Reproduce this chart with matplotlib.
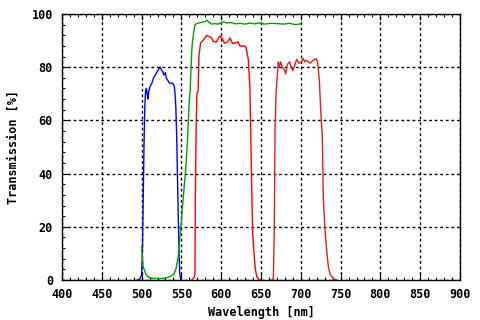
import numpy as np
import matplotlib.pyplot as plt
from matplotlib.ticker import MultipleLocator

# blue filter
blue_nm = [495, 498, 500, 501, 502, 503, 504, 505, 506, 507, 508, 509, 511, 513, 515, 517,
           519, 521, 523, 525, 527, 528, 530, 531, 533, 535, 537, 539, 541, 542, 543, 544,
           545, 546, 547, 548, 549, 550]
blue_t = [0, 0.5, 2, 10, 30, 50, 65, 71, 72, 70, 68, 71, 73, 74, 76, 77,
          78, 79, 80, 79, 78, 77, 78, 76, 75, 74, 74, 74, 73, 70, 65, 55,
          40, 25, 10, 2, 0.5, 0]

# green filter
green_nm = [500, 502, 505, 507, 510, 515, 520, 525, 530, 535, 540, 543, 546, 548, 550, 552,
            555, 557, 560, 561, 563, 564, 567, 570, 575, 580, 582, 585, 588, 592, 596, 600,
            603, 607, 612, 618, 624, 630, 636, 642, 648, 655, 662, 670, 678, 686, 693, 700]
green_t = [12.5, 5, 2.5, 1.5, 0.8, 0.6, 0.6, 0.6, 0.7, 1.2, 2, 4, 8.6, 16, 22, 30,
           40, 49, 68, 71, 86, 90, 96, 96.5, 96.8, 97.2, 97.7, 96.8, 96.2, 96.4, 96.2, 96.8,
           97.1, 96.6, 96.8, 96.3, 96.5, 96.2, 96.6, 96.3, 96.6, 96.2, 96.5, 96.4, 96.2, 96.5, 96.0, 96.3]

# red filter (first band)
red1_nm = [563, 566, 567, 567.5, 568.5, 569.5, 571, 572, 574, 577, 582, 585, 588, 590, 594,
           598, 601, 604, 608, 611, 614, 617, 621, 623.5, 628, 631, 634, 636, 638, 639.5,
           641.5, 643, 645, 648.7]
red1_t = [0, 1, 2, 30, 57, 70, 71, 84, 89, 90, 92, 91.5, 91, 89.6, 89.5,
          91.7, 91, 89, 89.5, 91, 89, 89, 89.5, 88, 88, 87.7, 83, 73, 40, 17.6,
          8.8, 3.8, 1, 0]

# red filter (second band)
red2_nm = [663, 665.5, 666.7, 667.6, 669, 670.5, 671.7, 672.7, 674.7, 676.7, 679.3, 681,
           683, 686, 688, 690, 692.7, 694.7, 697.6, 700.6, 703, 705, 707, 711.6, 716, 719,
           721, 723.4, 725, 727, 728.3, 730.4, 732.5, 734.6, 737, 741, 745]
red2_t = [0, 0.5, 18.8, 56, 70.8, 77, 82, 80, 82, 80, 79, 77.5,
          81, 82, 80, 78.7, 81, 83, 81.5, 82, 83.3, 82, 82.6, 81.5, 82.6, 83.3,
          82, 74.6, 64, 54, 31, 18.8, 11, 5, 2, 0.5, 0]

plt.rcParams['font.family'] = ['DejaVu Sans Mono']
plt.rcParams['font.weight'] = 'bold'

fig = plt.figure(figsize=(4.8, 3.2), dpi=100)
ax = fig.add_axes([62 / 480, 1 - 280 / 320, 398 / 480, 266 / 320])

ax.plot(blue_nm, blue_t, color='#0000ff', lw=1)
ax.plot(green_nm, green_t, color='#00a000', lw=1)
ax.plot(red1_nm, red1_t, color='#ff0000', lw=1)
ax.plot(red2_nm, red2_t, color='#e02020', lw=1)

ax.set_xlim(400, 900)
ax.set_ylim(0, 100)
ax.xaxis.set_major_locator(MultipleLocator(50))
ax.xaxis.set_minor_locator(MultipleLocator(10))
ax.yaxis.set_major_locator(MultipleLocator(20))
ax.yaxis.set_minor_locator(MultipleLocator(4))
ax.tick_params(which='major', direction='in', length=4, width=0.8, labelsize=8.5,
               top=True, right=False)
ax.tick_params(which='minor', direction='in', length=2, width=0.8, top=True, right=False)
ax.tick_params(axis='x', pad=6)
ax.tick_params(axis='y', pad=6.5)
for lab in ax.get_xticklabels() + ax.get_yticklabels():
    lab.set_fontweight('bold')

ax.grid(True, which='major', color='black', linestyle=(0, (2, 2)), linewidth=1)
ax.set_xlabel('Wavelength [nm]', fontsize=8.5, fontweight='bold', va='center')
ax.set_ylabel('Transmission [%]', fontsize=8.5, fontweight='bold', va='center')
ax.xaxis.set_label_coords(0.5, -0.122)
ax.yaxis.set_label_coords(-0.122, 0.5)
for s in ax.spines.values():
    s.set_linewidth(1)

fig.savefig('out.png', dpi=100)
